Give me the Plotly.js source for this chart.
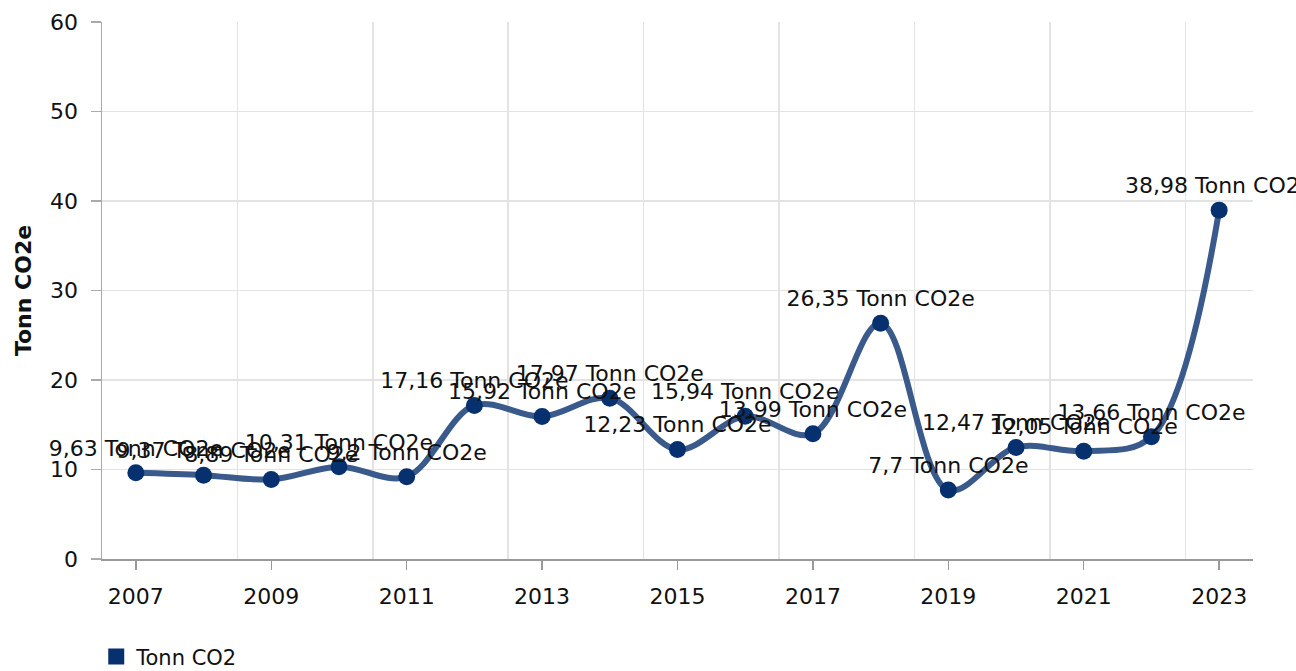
<!DOCTYPE html>
<html>
<head>
<meta charset="utf-8">
<script src="https://cdn.plot.ly/plotly-3.0.1.min.js"></script>
<style>
html,body{margin:0;padding:0;background:#fff;}
#chart{width:1296px;height:671px;}
</style>
</head>
<body>
<div id="chart"></div>
<script>
const years = [2007, 2008, 2009, 2010, 2011, 2012, 2013, 2014, 2015, 2016, 2017, 2018, 2019, 2020, 2021, 2022, 2023];
const values = [9.63, 9.37, 8.89, 10.31, 9.2, 17.16, 15.92, 17.97, 12.23, 15.94, 13.99, 26.35, 7.7, 12.47, 12.05, 13.66, 38.98];
const unit = "Tonn CO2e";
const seriesName = "Tonn CO2";
const xTicks = [2007, 2009, 2011, 2013, 2015, 2017, 2019, 2021, 2023];
const yTicks = [0, 10, 20, 30, 40, 50, 60];

const labels = values.map(v => String(v).replace('.', ',') + ' ' + unit);
const FONT = 'DejaVu Sans, Verdana, sans-serif';

const traces = [
  {
    x: years, y: values, type: 'scatter', mode: 'lines+markers+text',
    line: {shape: 'spline', smoothing: 1, color: '#3b5a8c', width: 6},
    marker: {color: '#07306e', size: 17},
    text: labels, textposition: 'top center',
    textfont: {family: FONT, size: 22, color: '#111'},
    cliponaxis: false, showlegend: false, hoverinfo: 'x+y'
  },
  {
    x: [null], y: [null], type: 'scatter', mode: 'markers', name: seriesName,
    marker: {symbol: 'square', color: '#07306e', size: 30}, showlegend: true
  }
];

const layout = {
  width: 1296, height: 671,
  margin: {l: 102, r: 43, t: 22, b: 112, autoexpand: false},
  paper_bgcolor: '#fff', plot_bgcolor: '#fff',
  font: {family: FONT, size: 21, color: '#111'},
  xaxis: {
    range: [2006.5, 2023.5], tickmode: 'array', tickvals: xTicks,
    ticktext: xTicks.map(String), showgrid: false, zeroline: false,
    showline: true, linecolor: '#999', linewidth: 1.5,
    ticks: 'outside', ticklen: 9, tickcolor: '#999', tickwidth: 1.5,
    ticklabelstandoff: 8, automargin: false,
    minor: {tickmode: 'linear', tick0: 2008.5, dtick: 2, showgrid: true, gridcolor: '#e3e3e3', gridwidth: 1.5, ticks: ''},
    tickfont: {family: FONT, size: 22, color: '#111'}
  },
  yaxis: {
    range: [0, 60], tickmode: 'array', tickvals: yTicks, showgrid: true,
    gridcolor: '#e3e3e3', gridwidth: 1.5, zeroline: false,
    showline: true, linecolor: '#aaa', linewidth: 1.5,
    ticks: 'outside', ticklen: 10, tickcolor: '#aaa', tickwidth: 1.5,
    ticklabelstandoff: 8, automargin: false,
    tickfont: {family: FONT, size: 22, color: '#111'},
    title: {text: '<b>Tonn CO2e</b>', font: {family: FONT, size: 22, color: '#111'}, standoff: 12}
  },
  legend: {
    orientation: 'h', x: -0.005, xanchor: 'left', xref: 'paper',
    yref: 'container', y: 0.021, yanchor: 'middle',
    font: {family: FONT, size: 21, color: '#111'}, itemsizing: 'trace',
    bgcolor: 'rgba(0,0,0,0)'
  },
  showlegend: true
};

Plotly.newPlot('chart', traces, layout, {displayModeBar: false, staticPlot: true});
</script>
</body>
</html>
